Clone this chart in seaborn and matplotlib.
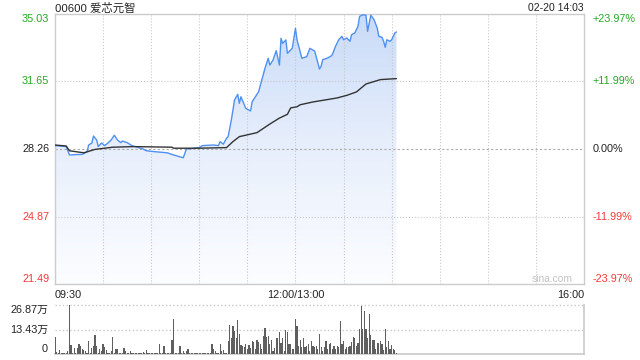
import numpy as np
import matplotlib
matplotlib.use("Agg")
import matplotlib.pyplot as plt
import seaborn as sns
from matplotlib.patches import PathPatch
from matplotlib.colors import LinearSegmentedColormap

# ---------------- data ----------------
title_text = "00600 爱芯元智"
stamp_text = "02-20 14:03"
watermark_text = "sina.com"

# minutes after 09:30 (trading-time axis: 0..150 morning, 150..330 afternoon)
price_min = [0, 7, 9, 13, 17, 20, 21, 23, 24, 26, 27, 29, 31, 33, 35, 37, 39, 41, 42, 45,
             48, 55, 57, 63, 70, 74, 80, 82, 85, 90, 92, 99, 102, 103, 105, 107, 108, 110,
             112, 114, 115, 116, 119, 122, 123, 125, 127, 129, 131, 133, 134, 136, 138, 140,
             141, 142, 144, 145, 148, 150, 151, 154, 157, 159, 162, 165, 166, 167, 170, 172,
             173, 175, 177, 179, 180, 182, 184, 185, 187, 189, 190, 192, 194, 195, 197, 199,
             201, 202, 204, 205, 206, 207, 209, 210, 212, 213]
price_val = [28.43, 28.38, 27.96, 27.98, 27.99, 28.12, 28.46, 28.56, 28.91, 28.71, 28.38, 28.56,
             28.43, 28.56, 28.71, 28.95, 28.71, 28.58, 28.66, 28.58, 28.43, 28.26, 28.17, 28.12,
             28.07, 27.96, 27.82, 28.26, 28.28, 28.33, 28.43, 28.46, 28.43, 28.63, 28.50, 28.80,
             28.88, 29.71, 30.72, 31.00, 30.55, 30.88, 30.30, 30.17, 30.63, 30.88, 31.13, 31.72,
             32.31, 32.81, 32.47, 32.72, 33.19, 32.47, 33.81, 33.56, 33.73, 33.06, 33.31, 34.31,
             33.73, 32.81, 32.89, 33.31, 33.17, 32.27, 32.41, 32.74, 32.82, 32.91, 32.99, 33.41,
             33.74, 33.91, 33.74, 33.83, 33.66, 33.99, 34.08, 34.41, 34.91, 34.99, 34.97, 34.16,
             34.97, 34.75, 34.33, 33.91, 33.86, 33.66, 33.36, 33.74, 33.66, 33.74, 34.08, 34.13]

avg_min = [0, 7, 9, 18, 25, 36, 49, 73, 74, 90, 107, 111, 115, 126, 134, 140, 145, 147, 151,
           153, 161, 176, 182, 188, 194, 203, 213]
avg_val = [28.46, 28.41, 28.17, 28.07, 28.24, 28.35, 28.38, 28.35, 28.30, 28.30, 28.33, 28.63,
           28.88, 29.08, 29.51, 29.81, 30.00, 30.32, 30.38, 30.48, 30.62, 30.82, 30.95, 31.12,
           31.52, 31.74, 31.79]

# per-minute volume (万股), minutes 0..213
volume_wan = [
    9.1, 1.3, 0.5, 2.2, 0.5, 0.8, 0.4, 0.6, 1.5, 26.87,
    5.0, 0.8, 3.3, 0.6, 3.3, 5.5, 4.4, 2.7, 2.0, 1.5,
    0.6, 7.3, 0.8, 3.3, 4.4, 10.6, 4.4, 0.6, 2.7, 1.5,
    5.5, 3.8, 2.2, 0.5, 0.8, 1.5, 9.5, 0.6, 2.7, 2.7,
    0.8, 0.4, 0.3, 3.3, 1.5, 0.5, 0.8, 1.5, 0.8, 0.3,
    0.5, 0.5, 0.3, 0.4, 0.6, 1.0, 0.5, 2.2, 0.6, 0.8,
    0.4, 0.8, 0.3, 0.6, 0.3, 5.5, 0.6, 0.5, 4.2, 0.3,
    0.6, 0.5, 0.3, 7.7, 19.2, 0.5, 0.8, 0.4, 4.2, 0.3,
    1.5, 0.5, 1.5, 2.7, 0.8, 0.3, 0.5, 0.3, 0.6, 0.5,
    0.3, 0.8, 0.5, 0.4, 0.3, 0.8, 0.5, 0.8, 5.5, 2.7,
    1.5, 0.6, 0.8, 5.5, 1.5, 2.0, 0.6, 0.8, 6.9, 15.9,
    8.8, 15.2, 12.8, 8.8, 18.6, 11.0, 5.1, 4.4, 4.0, 5.5,
    3.0, 5.0, 3.5, 7.0, 6.6, 3.0, 7.7, 6.6, 5.5, 3.0,
    10.0, 14.0, 9.5, 10.0, 5.5, 7.7, 1.5, 3.3, 8.8, 8.8,
    11.9, 6.0, 8.8, 1.5, 13.2, 11.9, 5.5, 5.5, 2.7, 2.7,
    19.2, 15.5, 4.4, 7.7, 3.8, 8.8, 3.8, 4.4, 5.5, 1.5,
    7.3, 4.4, 4.0, 4.4, 2.7, 11.0, 3.8, 1.5, 3.8, 7.3,
    2.7, 5.5, 6.0, 2.7, 4.4, 2.7, 4.4, 3.8, 17.9, 5.5,
    7.3, 3.0, 3.8, 4.0, 4.4, 6.6, 9.5, 8.8, 4.4, 6.0,
    13.7, 26.3, 13.7, 23.4, 13.7, 8.8, 21.9, 10.4, 7.7, 7.7,
    2.7, 6.3, 6.3, 7.3, 5.5, 2.0, 13.7, 3.8, 7.3, 2.7,
    5.0, 2.7, 2.0, 0.8]
volume_min = list(range(len(volume_wan)))

price_ticks = [21.49, 24.87, 28.26, 31.65, 35.03]
price_tick_labels = ["21.49", "24.87", "28.26", "31.65", "35.03"]
pct_tick_labels = ["-23.97%", "-11.99%", "0.00%", "+11.99%", "+23.97%"]
time_ticks = [0, 150, 330]
time_labels = ["09:30", "12:00/13:00", "16:00"]
grid_minutes = [30, 60, 90, 120, 150, 180, 210, 240, 270, 300]
vol_ticks = [0, 13.43, 26.87]
vol_labels = ["0", "13.43万", "26.87万"]

# ---------------- style ----------------
sns.set_theme(style="white")
plt.rcParams['font.family'] = ['Liberation Sans', 'Noto Sans CJK SC', 'DejaVu Sans']

RED = "#f23a3a"
GREEN = "#25a825"
DARK = "#222222"
tick_colors = [RED, RED, DARK, GREEN, GREEN]
tick_va = ["bottom", "center", "center", "center", "top"]
GRID = "#c8c8c8"
BORDER = "#cccccc"
LINE = "#5090f0"
FS = 7.8

W, H = 640, 360
fig = plt.figure(figsize=(6.4, 3.6), dpi=100)
ax = fig.add_axes([55 / W, 1 - 284 / H, 529 / W, 270 / H])
axv = fig.add_axes([55 / W, 1 - 354 / H, 529 / W, 49 / H])

ymin, ymax = price_ticks[0], price_ticks[-1]

# gradient fill under the price line
poly = ax.fill_between(price_min, price_val, ymin, color="none", linewidth=0)
clip = PathPatch(poly.get_paths()[0], transform=ax.transData, facecolor="none", edgecolor="none")
ax.add_patch(clip)
cmap = LinearSegmentedColormap.from_list("fillgrad", ["#fcfdff", "#e8effc", "#c9dbf8"])
grad = np.linspace(0, 1, 256).reshape(-1, 1)
im = ax.imshow(grad, extent=[0, 330, ymin, ymax], origin="lower", aspect="auto",
               cmap=cmap, zorder=1, interpolation="bicubic")
im.set_clip_path(clip)

# lines
sns.lineplot(x=price_min, y=price_val, ax=ax, color=LINE, linewidth=1.0, zorder=4)
sns.lineplot(x=avg_min, y=avg_val, ax=ax, color="#333333", linewidth=1.0, zorder=5)

ax.set_xlim(0, 330)
ax.set_ylim(ymin, ymax)
ax.set_xlabel("")
ax.set_ylabel("")

# grid
for g in grid_minutes:
    ax.axvline(g, color=GRID, linestyle=":", linewidth=0.8, zorder=2)
for t in [24.87, 31.65]:
    ax.axhline(t, color=GRID, linestyle=":", linewidth=0.8, zorder=2)
ax.axhline(28.26, color="#aaaaaa", linestyle=(0, (2, 2)), linewidth=0.8, zorder=2)

for s in ax.spines.values():
    s.set_color(BORDER)
    s.set_linewidth(1.0)

ax.set_yticks(price_ticks)
ax.set_yticklabels(price_tick_labels, fontsize=FS)
for lab, c, va in zip(ax.get_yticklabels(), tick_colors, tick_va):
    lab.set_color(c)
    lab.set_va(va)
ax.set_xticks(time_ticks)
ax.set_xticklabels(time_labels, fontsize=FS, color=DARK)
for lab, ha in zip(ax.get_xticklabels(), ["left", "center", "right"]):
    lab.set_ha(ha)
ax.tick_params(axis="both", length=0)
ax.tick_params(axis="y", pad=4)
ax.tick_params(axis="x", pad=4)

ax2 = ax.twinx()
ax2.set_ylim(ymin, ymax)
ax2.set_yticks(price_ticks)
ax2.set_yticklabels(pct_tick_labels, fontsize=FS)
for lab, c, va in zip(ax2.get_yticklabels(), tick_colors, tick_va):
    lab.set_color(c)
    lab.set_va(va)
ax2.tick_params(axis="y", length=0, pad=6)
for s in ax2.spines.values():
    s.set_visible(False)
ax2.grid(False)

# volume panel
axv.bar(volume_min, volume_wan, width=0.75, color="#5f5f5f", linewidth=0, zorder=3)
axv.set_xlim(0, 330)
axv.set_ylim(0, vol_ticks[-1])
axv.axhline(13.43, color=GRID, linestyle=":", linewidth=1.0, zorder=1)
axv.axhline(vol_ticks[-1], color=GRID, linestyle=":", linewidth=1.0, zorder=1, clip_on=False)
axv.spines["top"].set_visible(False)
axv.spines["left"].set_visible(False)
axv.spines["right"].set_color(BORDER)
axv.spines["bottom"].set_color(BORDER)
axv.set_xticks([])
axv.set_yticks(vol_ticks)
axv.set_yticklabels(vol_labels, fontsize=FS, color=DARK)
for lab, va in zip(axv.get_yticklabels(), ["bottom", "center", "top"]):
    lab.set_va(va)
axv.tick_params(axis="y", length=0, pad=5)
axv.grid(False)

# texts
fig.text(55 / W, 1 - 8 / H, title_text, ha="left", va="center", fontsize=8.2, color=DARK)
fig.text(584 / W, 1 - 8 / H, stamp_text, ha="right", va="center", fontsize=7.5, color=DARK)
fig.text(552 / W, 1 - 279 / H, watermark_text, ha="center", va="center", fontsize=7.4, color="#c4c4c4")

fig.savefig("out.png", dpi=100)
